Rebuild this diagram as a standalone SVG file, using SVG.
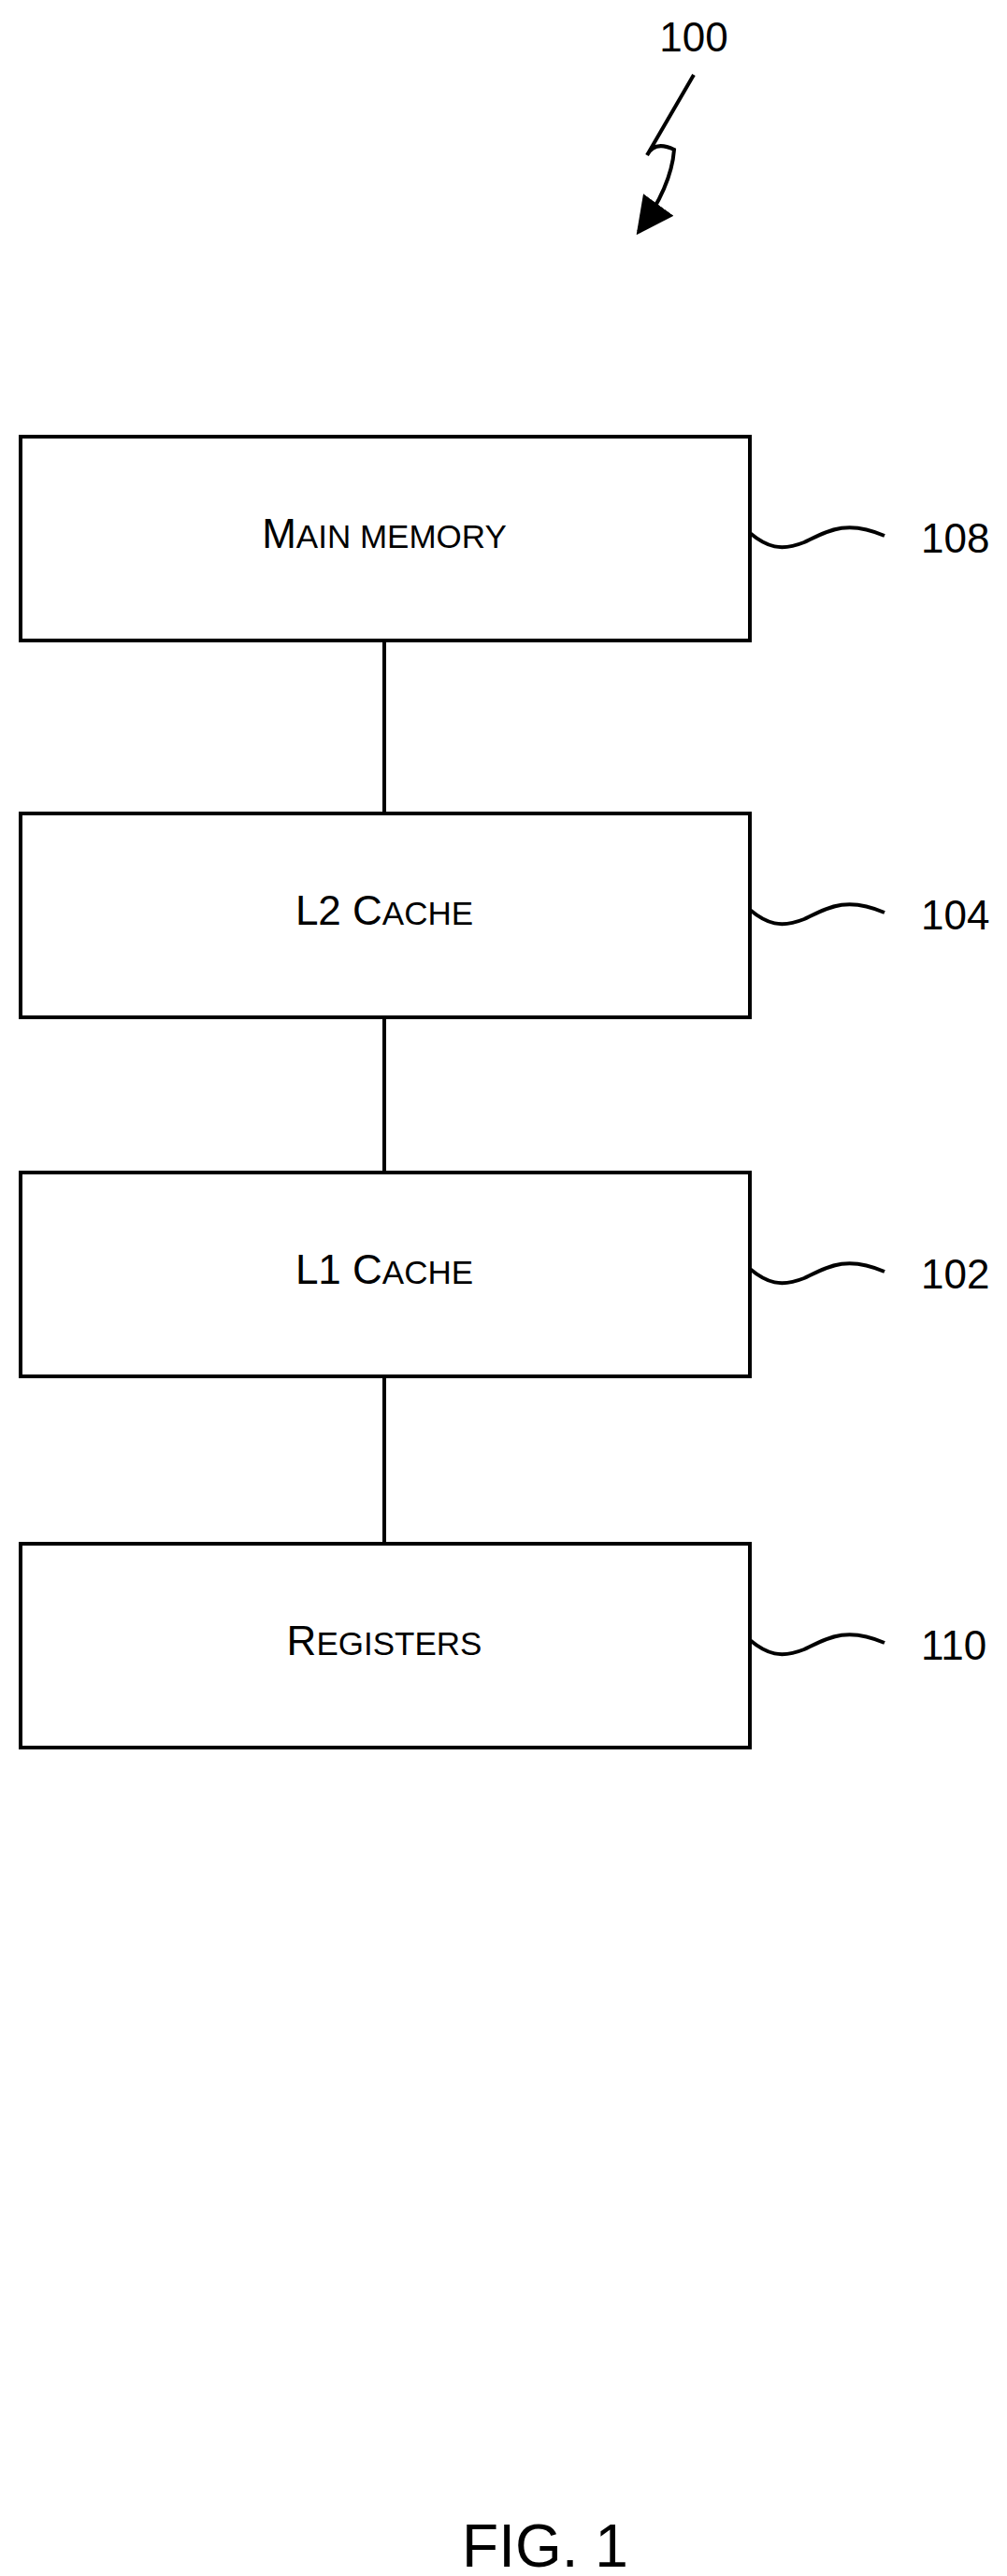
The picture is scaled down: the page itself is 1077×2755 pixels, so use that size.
<svg xmlns="http://www.w3.org/2000/svg" width="1077" height="2755" viewBox="0 0 1077 2755">
<style>
.box{fill:#fff;stroke:#000;stroke-width:4}
.ln{fill:none;stroke:#000;stroke-width:4}
text{font-family:"Liberation Sans",Arial,sans-serif;fill:#000}
.lbl{font-size:44px;text-anchor:middle}
.sc{font-size:35px}
.ref{font-size:44px}
</style>
<defs><marker id="ah" markerWidth="10" markerHeight="10" refX="9" refY="5" orient="auto" markerUnits="strokeWidth"><path d="M0,0 L10,5 L0,10 z"/></marker></defs>
<g id="connectors">
<line class="ln" x1="411" y1="685" x2="411" y2="870"/>
<line class="ln" x1="411" y1="1088" x2="411" y2="1254"/>
<line class="ln" x1="411" y1="1472" x2="411" y2="1651"/>
<path class="ln" d="M742,80 L692,166 Q700,150 721,160 Q718,200 683,248" stroke-width="3" marker-end="url(#ah)"/>
</g>
<g id="ref100"><text class="ref" x="742" y="55" text-anchor="middle">100</text></g>
<g id="main_memory">
<rect class="box" x="22" y="467" width="780" height="218"/>
<text class="lbl" x="411" y="586">M<tspan class="sc">AIN MEMORY</tspan></text>
<path class="ln" d="M802,570 C820,585 835,590 860,580 C885,568 905,555 946,573"/>
<text class="ref" x="985" y="591">108</text>
</g>
<g id="l2_cache">
<rect class="box" x="22" y="870" width="780" height="218"/>
<text class="lbl" x="411" y="989">L2 C<tspan class="sc">ACHE</tspan></text>
<path class="ln" d="M802,973 C820,988 835,993 860,983 C885,971 905,958 946,976"/>
<text class="ref" x="985" y="994">104</text>
</g>
<g id="l1_cache">
<rect class="box" x="22" y="1254" width="780" height="218"/>
<text class="lbl" x="411" y="1373">L1 C<tspan class="sc">ACHE</tspan></text>
<path class="ln" d="M802,1357 C820,1372 835,1377 860,1367 C885,1355 905,1342 946,1360"/>
<text class="ref" x="985" y="1378">102</text>
</g>
<g id="registers">
<rect class="box" x="22" y="1651" width="780" height="218"/>
<text class="lbl" x="411" y="1770">R<tspan class="sc">EGISTERS</tspan></text>
<path class="ln" d="M802,1754 C820,1769 835,1774 860,1764 C885,1752 905,1739 946,1757"/>
<text class="ref" x="985" y="1775">110</text>
</g>
<g id="caption"><text x="583" y="2745" font-size="64" text-anchor="middle">FIG. 1</text></g>
</svg>
